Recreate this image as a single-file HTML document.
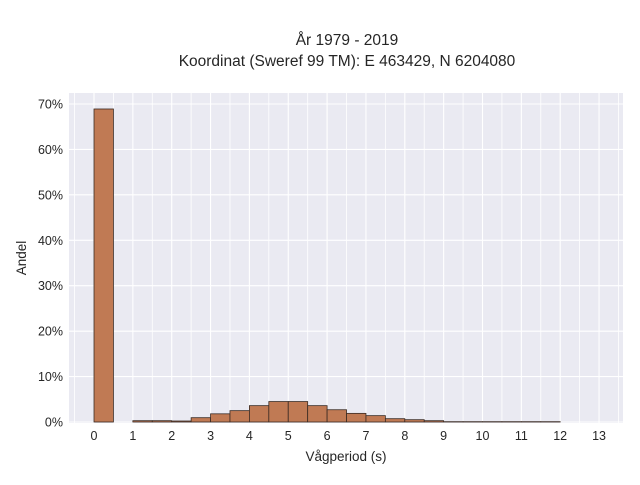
<!DOCTYPE html>
<html><head><meta charset="utf-8"><style>
body{margin:0;background:#fff;}
svg text{font-family:"Liberation Sans",sans-serif;fill:#262626;}
</style></head><body>
<svg width="640" height="480" viewBox="0 0 640 480">
<g id="titles">
<text x="347" y="45" text-anchor="middle" font-size="15.5">År 1979 - 2019</text>
<text x="347" y="66" text-anchor="middle" font-size="15.5">Koordinat (Sweref 99 TM): E 463429, N 6204080</text>
</g>
<rect x="69" y="93" width="554" height="330" fill="#eaeaf2"/>
<g id="grid"></g>
<g id="bars"></g>
<g id="xticks"></g>
<g id="yticks"></g>
<text x="346" y="461" text-anchor="middle" font-size="13.5">Vågperiod (s)</text>
<text transform="translate(26,258) rotate(-90)" text-anchor="middle" font-size="13.5">Andel</text>
</svg>
<script>
const binStarts=[0,0.5,1,1.5,2,2.5,3,3.5,4,4.5,5,5.5,6,6.5,7,7.5,8,8.5,9,9.5,10,10.5,11,11.5];
const shares=[68.9,0,0.29,0.29,0.22,0.95,1.8,2.5,3.6,4.5,4.5,3.6,2.7,1.9,1.4,0.73,0.51,0.29,0.07,0.07,0.07,0.07,0.07,0.07];
const binWidth=0.5;
const xTicks=[0,1,2,3,4,5,6,7,8,9,10,11,12,13];
const yTicks=[0,10,20,30,40,50,60,70];
const NS='http://www.w3.org/2000/svg';
const X=v=>94+v*38.85;
const Y=v=>422-v*4.543;
function mk(t,a,p){const e=document.createElementNS(NS,t);for(const k in a)e.setAttribute(k,a[k]);p.appendChild(e);return e;}
const grid=document.getElementById('grid');
for(let v=-0.5;v<=13.5;v+=0.5){
  const l=mk('line',{x1:X(v),x2:X(v),y1:93,y2:423,stroke:'#fff','stroke-width':Number.isInteger(v)?1.1:0.8},grid);
  
  
}
yTicks.forEach(v=>{
  const l=mk('line',{x1:69,x2:623,y1:Y(v),y2:Y(v),stroke:'#fff','stroke-width':1.1},grid);
  
  
});
const bars=document.getElementById('bars');
binStarts.forEach((b,i)=>{
  if(shares[i]<=0)return;
  const r=mk('rect',{x:X(b),y:Y(shares[i]),width:X(b+binWidth)-X(b),height:Y(0)-Y(shares[i]),fill:'#c07a54',stroke:'#3a2a22','stroke-width':0.8},bars);
  
  
});
const xt=document.getElementById('xticks');
xTicks.forEach(v=>{
  const t=mk('text',{x:X(v),y:440,'text-anchor':'middle','font-size':'12.5'},xt);
  t.textContent=v;
  
  
});
const yt=document.getElementById('yticks');
yTicks.forEach(v=>{
  const t=mk('text',{x:63,y:Y(v)+4.5,'text-anchor':'end','font-size':'12.5'},yt);
  t.textContent=v+'%';
  
  
});
</script>
</body></html>
